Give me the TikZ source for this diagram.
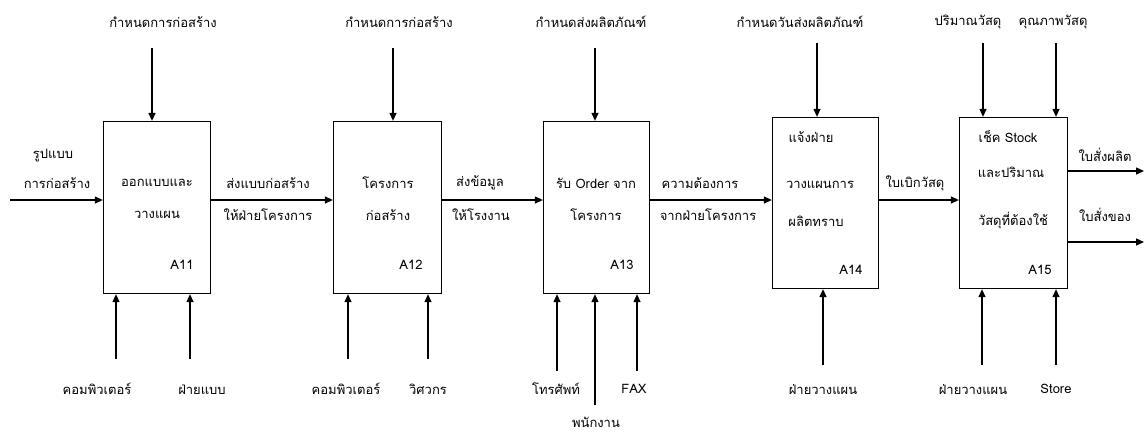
\documentclass[tikz,border=0pt]{standalone}
\usepackage{fontspec}
\newfontfamily\thaifont[Script=Thai]{Loma}
\usetikzlibrary{arrows.meta}
\tikzset{
  box/.style={draw, line width=1.3pt, inner sep=0pt},
  arr/.style={line width=1.3pt, -{Triangle[length=8pt,width=7pt]}},
  lbl/.style={font=\thaifont\fontsize{13}{15}\selectfont, inner sep=1pt},
}
\begin{document}
\begin{tikzpicture}[x=1pt,y=-1pt]
\useasboundingbox (0,0) rectangle (1146,432);
% boxes
\node[box, minimum width=107pt, minimum height=172pt] (b1) at (157,207.5) {};
\node[box, minimum width=108pt, minimum height=172pt] (b2) at (387.5,207.5) {};
\node[box, minimum width=106pt, minimum height=172pt] (b3) at (596.5,207.5) {};
\node[box, minimum width=106pt, minimum height=171pt] (b4) at (825.5,203) {};
\node[box, minimum width=108pt, minimum height=171pt] (b5) at (1013.5,203) {};
% box texts
\node[lbl] (b1a) at (157,183) {ออกแบบและ};
\node[lbl] (b1b) at (157,215) {วางแผน};
\node[lbl] (b1c) at (182,265) {A11};
\node[lbl] (b2a) at (388,183) {โครงการ};
\node[lbl] (b2b) at (388,215) {ก่อสร้าง};
\node[lbl] (b2c) at (411,265) {A12};
\node[lbl] (b3a) at (596,183) {รับ Order จาก};
\node[lbl] (b3b) at (596,215) {โครงการ};
\node[lbl] (b3c) at (622,265) {A13};
\node[lbl] (b4a) at (811,137) {แจ้งฝ่าย};
\node[lbl] (b4b) at (820,185) {วางแผนการ};
\node[lbl] (b4c) at (816,221) {ผลิตทราบ};
\node[lbl] (b4d) at (851,270) {A14};
\node[lbl] (b5a) at (1008,137) {เช็ค Stock};
\node[lbl] (b5b) at (1011,172) {และปริมาณ};
\node[lbl] (b5c) at (1013,221) {วัสดุที่ต้องใช้};
\node[lbl] (b5d) at (1040,270) {A15};
% top labels
\node[lbl] (t1l) at (163,22) {กำหนดการก่อสร้าง};
\node[lbl] (t2l) at (399,22) {กำหนดการก่อสร้าง};
\node[lbl] (t3l) at (591,22) {กำหนดส่งผลิตภัณฑ์};
\node[lbl] (t4l) at (800,22) {กำหนดวันส่งผลิตภัณฑ์};
\node[lbl] (t5l) at (968,22) {ปริมาณวัสดุ};
\node[lbl] (t6l) at (1053,22) {คุณภาพวัสดุ};
% top arrows
\coordinate (t1) at (152,48);
\coordinate (t2) at (393,48);
\coordinate (t3) at (595,48);
\coordinate (t4) at (817,43);
\coordinate (t5) at (983,43);
\coordinate (t6) at (1056,43);
\draw[arr] (t1) -- (t1 |- b1.north);
\draw[arr] (t2) -- (t2 |- b2.north);
\draw[arr] (t3) -- (t3 |- b3.north);
\draw[arr] (t4) -- (t4 |- b4.north);
\draw[arr] (t5) -- (t5 |- b5.north);
\draw[arr] (t6) -- (t6 |- b5.north);
% horizontal flow
\coordinate (in1) at (10,200);
\draw[arr] (in1) -- (b1.west |- in1);
\draw[arr] (b1.east |- in1) -- (b2.west |- in1);
\draw[arr] (b2.east |- in1) -- (b3.west |- in1);
\draw[arr] (b3.east |- in1) -- (b4.west |- in1);
\draw[arr] (b4.east |- in1) -- (b5.west |- in1);
\coordinate (o1) at (1144,171);
\coordinate (o2) at (1144,242);
\draw[arr] (b5.east |- o1) -- (o1);
\draw[arr] (b5.east |- o2) -- (o2);
% flow labels
\node[lbl] (h0a) at (53,155) {รูปแบบ};
\node[lbl] (h0b) at (57,183) {การก่อสร้าง};
\node[lbl] (h1a) at (268,183) {ส่งแบบก่อสร้าง};
\node[lbl] (h1b) at (268,215) {ให้ฝ่ายโครงการ};
\node[lbl] (h2a) at (480,183) {ส่งข้อมูล};
\node[lbl] (h2b) at (481,215) {ให้โรงงาน};
\node[lbl] (h3a) at (700,183) {ความต้องการ};
\node[lbl] (h3b) at (708,215) {จากฝ่ายโครงการ};
\node[lbl] (h4a) at (915,183) {ใบเบิกวัสดุ};
\node[lbl] (o1l) at (1105,155) {ใบสั่งผลิต};
\node[lbl] (o2l) at (1105,215) {ใบสั่งของ};
% bottom arrows
\coordinate (m1) at (116,359);
\coordinate (m2) at (190,359);
\coordinate (m3) at (348,359);
\coordinate (m4) at (428,359);
\coordinate (m5) at (557,371);
\coordinate (m6) at (595,405);
\coordinate (m7) at (637,371);
\coordinate (m8) at (823,365);
\coordinate (m9) at (982,365);
\coordinate (m10) at (1056,365);
\draw[arr] (m1) -- (m1 |- b1.south);
\draw[arr] (m2) -- (m2 |- b1.south);
\draw[arr] (m3) -- (m3 |- b2.south);
\draw[arr] (m4) -- (m4 |- b2.south);
\draw[arr] (m5) -- (m5 |- b3.south);
\draw[arr] (m6) -- (m6 |- b3.south);
\draw[arr] (m7) -- (m7 |- b3.south);
\draw[arr] (m8) -- (m8 |- b4.south);
\draw[arr] (m9) -- (m9 |- b5.south);
\draw[arr] (m10) -- (m10 |- b5.south);
% bottom labels
\node[lbl] (m1l) at (97,389) {คอมพิวเตอร์};
\node[lbl] (m2l) at (202,389) {ฝ่ายแบบ};
\node[lbl] (m3l) at (346,389) {คอมพิวเตอร์};
\node[lbl] (m4l) at (428,389) {วิศวกร};
\node[lbl] (m5l) at (556,389) {โทรศัพท์};
\node[lbl] (m7l) at (634,389) {FAX};
\node[lbl] (m6l) at (596,422) {พนักงาน};
\node[lbl] (m8l) at (823,389) {ฝ่ายวางแผน};
\node[lbl] (m9l) at (973,389) {ฝ่ายวางแผน};
\node[lbl] (m10l) at (1056,389) {Store};
\end{tikzpicture}
\end{document}
